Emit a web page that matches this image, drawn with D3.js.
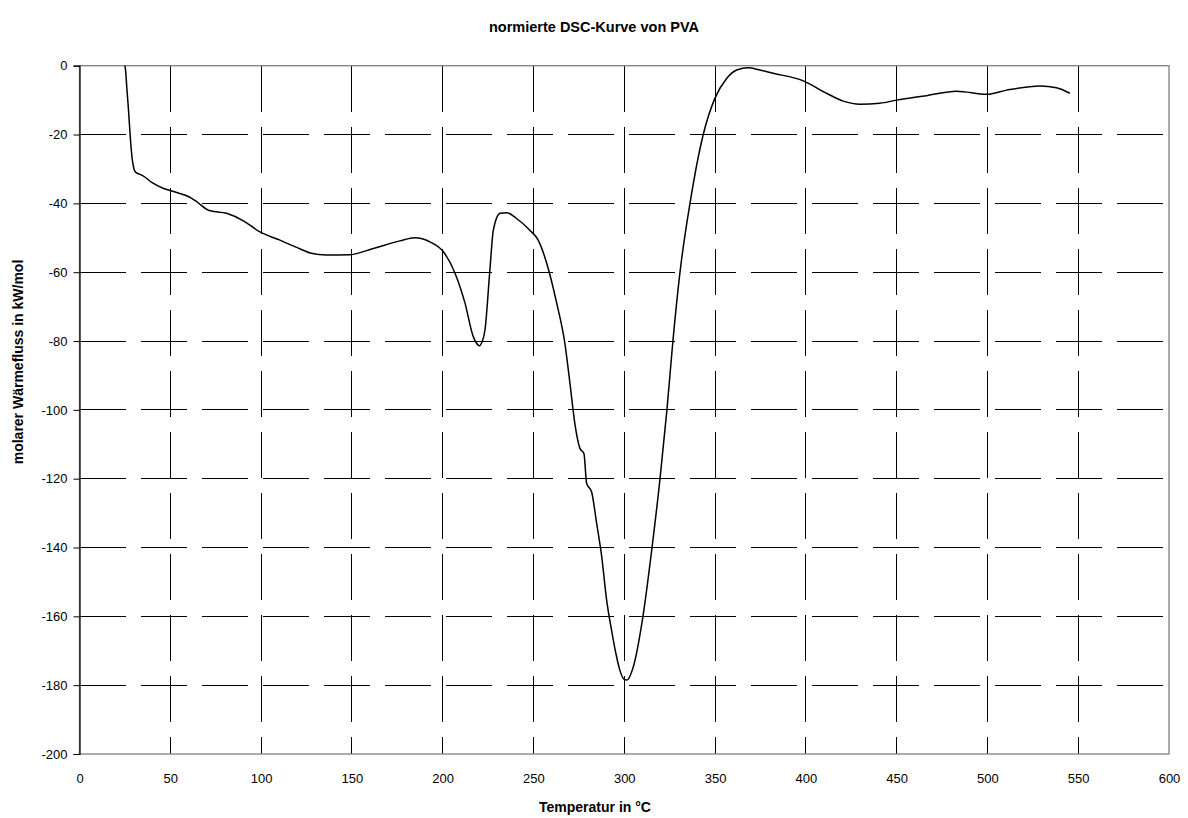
<!DOCTYPE html>
<meta charset="utf-8">
<style>
  body { margin: 0; background: #fff; }
  text { font-family: "Liberation Sans", Arial, sans-serif; fill: #000; }
</style>
<body>
<svg width="1188" height="818"></svg>

<script src="https://cdn.jsdelivr.net/npm/d3@7"></script>
<script>

// Temperature (°C) and molar heat flow (kW/mol)
var temps = [25, 25.5, 26, 27, 28, 29, 30, 31, 33, 35, 40, 46, 54, 60, 64.5, 71, 81, 90, 99.4,
  110.4, 119.6, 127, 136, 149, 161.8, 176.5, 184.7, 193, 200.3, 206.8, 212.3, 216.9, 219.6,
  220.2, 221.5, 223.3, 226, 227.9, 231.6, 235.2, 240.7, 248, 252.6, 257.3, 262.8, 267.3,
  270.1, 272.8, 275.6, 277.8, 279.3, 282, 284.8, 287.6, 290.3, 293, 295.4, 297.6, 300, 301.5,
  304.8, 310.3, 315.3, 319.7, 323.5, 326.8, 330.7, 336.2, 343.5, 349.9, 356.4, 361.9, 368.3,
  374.7, 382, 398.6, 411.4, 420.6, 429.8, 440.8, 450, 466.5, 483, 499.6, 510.6, 528.9, 538, 545.4];
var heatFlow = [0, -2, -6, -13, -21, -27, -30, -31, -31.5, -32, -34, -35.6, -36.9, -38, -39.5, -42, -42.9, -45, -48.3,
  -50.7, -52.8, -54.4, -55, -54.9, -53.1, -50.9, -50, -51.2, -54, -60.3, -69, -78.8, -81.2,
  -81.4, -80.5, -76.8, -59.4, -47.8, -42.9, -42.7, -44.4, -47.8, -50.7, -57.4, -69, -80.7,
  -92.3, -104, -111.2, -112.7, -121.4, -123.8, -133, -142.7, -155.3, -164, -170.8, -175.7, -178.3, -178.5,
  -175, -160, -140, -120, -100, -80, -60, -40, -20, -9.5, -3.7, -1.25, -0.6,
  -1.25, -2.2, -4.4, -8, -10.3, -11.2, -10.9, -10, -8.7, -7.4, -8.3, -7.1, -5.9, -6.4, -8];

var xTicks = [0, 50, 100, 150, 200, 250, 300, 350, 400, 450, 500, 550, 600];
var yTicks = [0, -20, -40, -60, -80, -100, -120, -140, -160, -180, -200];

var svg = d3.select("svg");
var plot = {left: 79.5, right: 1169, top: 65.7, bottom: 754};

var x = d3.scaleLinear().domain([0, 600]).range([plot.left, plot.right]);
var y = d3.scaleLinear().domain([-200, 0]).range([plot.bottom, plot.top]);

// dashed grid
var grid = svg.append("g").attr("class", "grid")
  .attr("stroke", "#000").attr("stroke-width", 1).attr("stroke-dasharray", "46,15")
  .attr("shape-rendering", "crispEdges");

grid.selectAll(".hline").data(yTicks.filter(function(d) { return d > -200 && d < 0; }))
  .enter().append("line")
  .attr("x1", plot.left).attr("x2", plot.right)
  .attr("y1", function(d) { return y(d); }).attr("y2", function(d) { return y(d); });

grid.selectAll(".vline").data(xTicks.filter(function(d) { return d > 0 && d < 600; }))
  .enter().append("line")
  .attr("y1", plot.top).attr("y2", plot.bottom)
  .attr("x1", function(d) { return x(d); }).attr("x2", function(d) { return x(d); });

// plot frame
svg.append("rect")
  .attr("x", plot.left).attr("y", plot.top)
  .attr("width", plot.right - plot.left).attr("height", plot.bottom - plot.top)
  .attr("fill", "none").attr("stroke", "#808080").attr("stroke-width", 1.3);

// y axis
var yAxis = svg.append("g")
  .attr("transform", "translate(" + plot.left + ",0)")
  .call(d3.axisLeft(y).tickValues(yTicks).tickFormat(String).tickSize(6).tickPadding(6));
yAxis.select(".domain").attr("stroke", "#000").attr("stroke-width", 1.2);
yAxis.selectAll("text").attr("font-size", 13).attr("font-family", "Liberation Sans, Arial, sans-serif");

// x axis (labels only)
var xAxis = svg.append("g")
  .attr("transform", "translate(0," + plot.bottom + ")")
  .call(d3.axisBottom(x).tickValues(xTicks).tickFormat(String).tickSize(0).tickPadding(20));
xAxis.select(".domain").remove();
xAxis.selectAll("text").attr("font-size", 13).attr("font-family", "Liberation Sans, Arial, sans-serif");

// curve
var points = temps.map(function(t, i) { return [t, heatFlow[i]]; });
var line = d3.line().curve(d3.curveMonotoneX)
  .x(function(d) { return x(d[0]); })
  .y(function(d) { return y(d[1]); });

svg.append("path")
  .datum(points)
  .attr("fill", "none")
  .attr("stroke", "#000")
  .attr("stroke-width", 1.5)
  .attr("d", line);

// titles
svg.append("text")
  .attr("x", 594).attr("y", 32)
  .attr("text-anchor", "middle").attr("font-size", 14.5).attr("font-weight", "bold")
  .text("normierte DSC-Kurve von PVA");

svg.append("text")
  .attr("x", 595).attr("y", 812)
  .attr("text-anchor", "middle").attr("font-size", 14).attr("font-weight", "bold")
  .text("Temperatur in °C");

svg.append("text")
  .attr("transform", "translate(23,362) rotate(-90)")
  .attr("text-anchor", "middle").attr("font-size", 14).attr("font-weight", "bold")
  .text("molarer Wärmefluss in kW/mol");

</script>
</body>
